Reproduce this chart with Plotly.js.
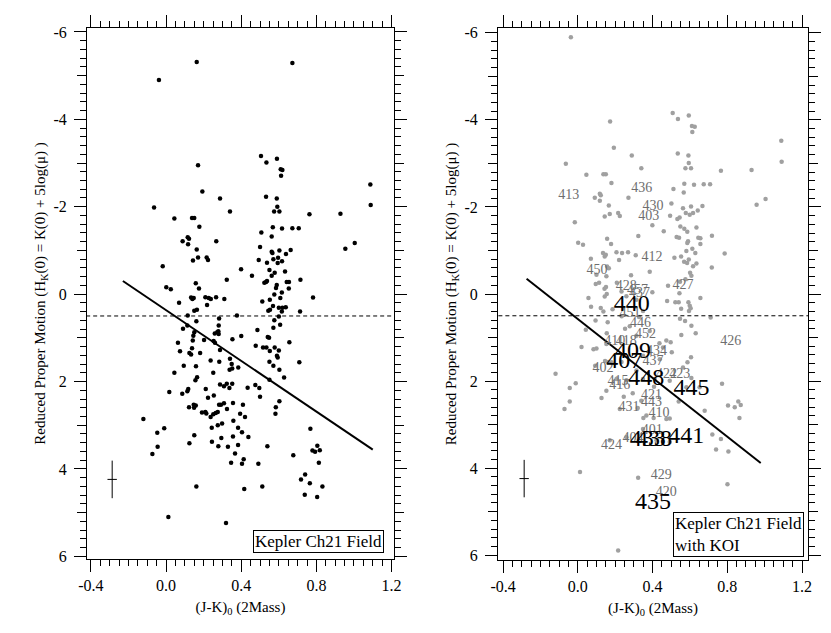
<!DOCTYPE html>
<html>
<head>
<meta charset="utf-8">
<script src="https://cdn.plot.ly/plotly-3.0.1.min.js"></script>
<style>html,body{margin:0;padding:0;background:#fff;}#chart{width:831px;height:633px;}</style>
</head>
<body>
<div id="chart"></div>
<script>
// ---------- data ----------
const xTickVals = [-0.4, 0.0, 0.4, 0.8, 1.2];
const xTickText = ['-0.4', '0.0', '0.4', '0.8', '1.2'];
const yTickVals = [-6, -4, -2, 0, 2, 4, 6];
const yTickText = ['-6', '-4', '-2', '0', '2', '4', '6'];
const yMidTickVals = [-5, -3, -1, 1, 3, 5];

const leftX = [0.163,0.672,-0.038,0.505,0.590,0.170,0.534,0.610,0.619,0.612,1.087,0.193,0.287,0.532,0.589,-0.064,1.089,0.044,0.138,0.150,0.340,0.575,0.603,0.592,0.763,0.928,0.177,0.507,0.568,0.617,0.672,0.706,0.562,0.088,0.115,0.122,0.117,0.267,0.163,0.500,1.004,0.954,0.562,0.566,0.603,0.663,0.638,0.170,0.216,0.223,0.143,0.493,0.537,0.571,0.596,0.594,0.617,-0.018,0.399,0.550,0.578,0.633,0.457,0.562,0.323,0.715,0.523,0.532,0.537,0.589,0.585,0.642,0.654,0.653,0.158,0.001,0.025,0.175,0.616,0.576,0.133,0.140,0.147,0.209,0.227,0.238,0.266,0.310,0.608,0.782,0.552,0.069,0.218,0.512,0.569,0.600,0.619,0.637,0.544,0.553,0.616,0.713,0.150,0.164,0.115,0.377,0.600,0.282,0.161,0.576,0.607,0.280,0.113,0.090,0.571,0.150,0.145,0.259,0.272,0.278,0.280,0.400,0.541,0.548,0.486,0.353,0.142,0.202,0.253,0.260,0.063,0.656,0.477,0.516,0.534,0.578,0.552,0.600,0.287,0.138,0.074,0.124,0.133,0.181,0.590,0.594,0.340,0.349,0.237,0.283,0.550,0.709,0.094,0.159,0.338,0.352,0.384,0.571,0.603,0.044,0.251,0.165,0.628,0.156,0.550,0.017,0.086,0.113,0.118,0.211,0.223,0.254,0.287,0.308,0.323,0.352,0.337,0.434,0.475,0.496,0.500,0.282,0.292,0.308,0.122,0.147,0.158,0.149,0.356,0.409,0.324,0.191,0.214,0.209,0.237,0.251,0.264,0.275,0.394,0.420,0.584,0.582,0.603,-0.121,-0.010,-0.047,-0.045,-0.073,0.150,0.124,0.243,0.275,0.298,0.244,0.278,0.294,0.329,0.358,0.383,0.404,0.356,0.383,0.438,0.367,0.346,0.404,0.413,0.491,0.539,0.677,0.768,0.779,0.793,0.805,0.818,0.813,0.718,0.740,0.765,0.738,0.804,0.832,0.161,0.416,0.512,0.012,0.319];
const leftY = [-5.31,-5.29,-4.90,-3.16,-3.10,-2.95,-3.01,-2.86,-2.84,-2.71,-2.51,-2.35,-2.19,-2.23,-2.19,-1.98,-2.04,-1.73,-1.74,-1.74,-1.89,-1.89,-1.89,-2.00,-1.83,-1.84,-1.54,-1.41,-1.53,-1.50,-1.51,-1.51,-1.32,-1.21,-1.30,-1.27,-1.14,-1.21,-1.02,-1.08,-1.17,-1.04,-0.97,-0.94,-1.00,-1.01,-0.92,-0.84,-0.84,-0.78,-0.77,-0.78,-0.72,-0.80,-0.83,-0.71,-0.75,-0.64,-0.57,-0.55,-0.49,-0.52,-0.42,-0.42,-0.33,-0.33,-0.26,-0.28,-0.30,-0.21,-0.14,-0.28,-0.28,-0.13,-0.25,-0.16,-0.11,-0.13,-0.04,0.01,0.08,0.11,0.09,0.07,0.09,0.11,0.07,0.11,0.09,0.08,0.13,0.20,0.25,0.17,0.27,0.31,0.31,0.30,0.38,0.36,0.40,0.40,0.38,0.36,0.49,0.49,0.51,0.56,0.62,0.60,0.70,0.72,0.72,0.79,0.77,0.87,0.95,0.90,0.87,0.85,0.91,0.96,0.98,1.00,0.82,1.03,1.06,1.05,1.07,1.11,1.11,1.10,1.18,1.22,1.22,1.22,1.30,1.29,1.28,1.24,1.31,1.35,1.38,1.35,1.41,1.45,1.48,1.60,1.52,1.55,1.55,1.56,1.64,1.65,1.73,1.70,1.68,1.64,1.73,1.80,1.80,1.90,1.91,1.97,1.96,2.24,2.28,2.22,2.17,2.17,2.37,2.32,2.07,2.11,2.05,2.05,2.15,2.14,2.08,2.15,2.35,2.53,2.53,2.50,2.59,2.53,2.55,2.60,2.49,2.53,2.63,2.71,2.73,2.70,2.81,2.75,2.72,2.70,2.74,2.81,2.59,2.74,2.45,2.86,3.07,3.17,3.49,3.66,3.23,3.41,3.06,3.00,2.96,3.38,3.48,3.29,3.49,2.90,3.06,3.16,3.26,3.45,3.27,3.65,3.86,3.88,3.78,3.88,3.48,3.69,3.08,3.58,3.61,3.47,3.57,3.86,4.24,4.13,4.33,4.59,4.64,4.40,4.40,4.46,4.40,5.10,5.24];

const rightX = [-0.037,0.508,0.536,0.594,0.173,0.611,0.626,0.613,1.089,0.193,0.535,0.592,0.289,0.594,-0.064,0.576,0.606,0.340,1.091,0.766,0.930,0.046,0.137,0.150,0.180,0.512,0.570,0.567,0.622,0.674,0.708,0.118,0.123,0.091,0.271,1.005,0.118,0.501,0.957,0.166,0.563,0.606,0.667,0.578,0.599,0.617,0.642,0.144,0.171,0.216,0.225,0.494,0.533,0.545,0.549,0.399,0.460,-0.016,0.570,0.586,0.635,0.718,0.529,0.542,0.324,0.645,0.656,0.590,0.586,0.656,0.002,0.028,0.157,0.178,0.613,0.581,0.629,0.786,0.207,0.237,0.269,0.221,0.310,0.135,0.144,0.150,0.070,0.517,0.553,0.569,0.585,0.594,0.635,0.617,0.385,0.717,0.100,0.157,0.166,0.153,0.285,0.601,0.608,0.576,0.547,0.096,0.114,0.143,0.151,0.209,0.483,0.544,0.399,0.144,0.155,0.057,0.478,0.522,0.540,0.592,0.656,0.553,0.599,0.604,0.595,0.071,0.123,0.137,0.186,0.235,0.328,0.547,0.711,0.095,0.160,0.574,0.608,0.043,0.253,0.155,0.554,0.631,0.020,0.084,0.100,0.153,0.437,0.474,0.497,0.503,0.606,0.587,0.563,0.146,0.162,0.180,0.093,-0.119,-0.011,-0.043,0.772,0.127,-0.043,-0.071,0.153,0.246,0.294,0.408,0.540,0.679,0.804,0.840,0.859,0.872,0.865,0.351,0.406,0.492,0.321,0.720,0.766,0.740,0.806,0.012,0.323,0.801,0.216,0.171,
  0.207,0.260,0.314,0.349,0.412,0.492,0.581,0.608,0.652,0.234,0.349,0.439,0.456,0.314,0.385,0.278,0.349,0.314,0.260,0.234,0.349,0.421,0.260,0.492,0.367,0.474,0.225,0.340];
const rightY = [-5.90,-4.16,-4.02,-4.10,-3.96,-3.86,-3.84,-3.72,-3.52,-3.36,-3.23,-3.18,-3.18,-3.01,-2.99,-2.89,-2.89,-2.89,-3.04,-2.83,-2.85,-2.74,-2.75,-2.75,-2.55,-2.41,-2.53,-2.33,-2.51,-2.52,-2.52,-2.30,-2.27,-2.21,-2.21,-2.18,-2.14,-2.08,-2.05,-2.03,-1.97,-2.01,-2.02,-1.86,-1.82,-1.86,-1.92,-1.78,-1.84,-1.86,-1.79,-1.80,-1.72,-1.76,-1.55,-1.58,-1.44,-1.65,-1.50,-1.43,-1.53,-1.34,-1.31,-1.29,-1.33,-1.29,-1.28,-1.21,-1.17,-1.15,-1.18,-1.13,-1.27,-1.15,-1.04,-0.99,-0.94,-0.93,-0.96,-0.94,-0.96,-0.78,-0.89,-0.94,-0.86,-0.90,-0.81,-0.83,-0.86,-0.74,-0.71,-0.79,-0.70,-0.64,-0.51,-0.61,-0.44,-0.63,-0.59,-0.41,-0.43,-0.49,-0.42,-0.34,-0.28,-0.23,-0.26,-0.12,-0.16,-0.26,-0.19,-0.02,-0.04,0.06,0.00,0.09,0.16,0.19,0.19,0.19,0.09,0.34,0.27,0.33,0.39,0.29,0.32,0.40,0.35,0.51,0.53,0.57,0.54,0.61,0.65,0.62,0.73,0.82,0.80,0.90,0.94,0.90,1.22,1.27,1.25,1.15,1.13,1.07,1.11,1.34,1.45,1.57,1.69,1.54,1.56,1.57,1.65,1.83,2.05,2.16,2.06,2.39,2.47,2.64,2.22,2.36,2.28,2.13,2.47,2.68,2.56,2.60,2.47,2.55,2.85,2.85,2.85,2.86,2.62,3.23,3.33,3.57,3.62,4.09,4.22,4.37,5.89,3.36,
  1.95,1.98,1.76,1.95,1.95,1.99,2.14,1.93,2.14,1.56,1.42,1.50,1.23,0.96,0.85,0.74,0.39,0.13,0.05,-0.06,3.10,3.36,3.29,3.40,2.79,2.87,2.64,2.45];

const koiSmallLabels = ['413','436','430','403','412','450','427','428','437','451','446','452','426','410','418','434','437','402','423','422','416','415','421','443','431','410','401','404','424','429','420','457'];
const koiSmallX = [-0.048,0.342,0.403,0.380,0.397,0.103,0.563,0.260,0.330,0.280,0.335,0.362,0.818,0.198,0.260,0.421,0.403,0.135,0.545,0.475,0.225,0.215,0.394,0.394,0.274,0.435,0.399,0.296,0.180,0.447,0.474,0.320];
const koiSmallY = [-2.27,-2.43,-2.01,-1.79,-0.84,-0.54,-0.19,-0.18,-0.02,0.45,0.67,0.93,1.09,1.09,1.08,1.31,1.54,1.70,1.86,1.86,2.11,2.02,2.34,2.50,2.60,2.75,3.14,3.33,3.48,4.16,4.57,-0.08];
const koiBigLabels = ['440','409','407','448','445','433','438','441','435'];
const koiBigX = [0.289,0.296,0.248,0.367,0.608,0.375,0.408,0.581,0.403];
const koiBigY = [0.26,1.33,1.57,1.95,2.18,3.36,3.36,3.29,4.81];

const fitLeftX = [-0.23, 1.10];
const fitLeftY = [-0.30, 3.56];
const fitRightX = [-0.274, 0.979];
const fitRightY = [-0.35, 3.88];
const cutX = [-0.5, 1.3];
const cutY = [0.5, 0.5];
const errX = [-0.287];
const errY = [4.24];
const errDX = [0.025];
const errDY = [0.43];

// ---------- figure ----------
const FONT = 'Liberation Serif';
const traces = [
  {x: leftX, y: leftY, xaxis: 'x', yaxis: 'y', mode: 'markers', type: 'scatter',
   marker: {color: '#000', size: 4.5}, hoverinfo: 'skip'},
  {x: fitLeftX, y: fitLeftY, xaxis: 'x', yaxis: 'y', mode: 'lines', line: {color: '#000', width: 2}},
  {x: cutX, y: cutY, xaxis: 'x', yaxis: 'y', mode: 'lines', line: {color: '#000', width: 1, dash: '4px,3px'}},
  {x: errX, y: errY, xaxis: 'x', yaxis: 'y', mode: 'markers', marker: {size: 0.1, color: '#000'},
   error_x: {type: 'data', array: errDX, width: 0, thickness: 1, color: '#000'},
   error_y: {type: 'data', array: errDY, width: 0, thickness: 1, color: '#000'}},

  {x: rightX, y: rightY, xaxis: 'x2', yaxis: 'y2', mode: 'markers', type: 'scatter',
   marker: {color: '#a0a0a0', size: 4.5}, hoverinfo: 'skip'},
  {x: fitRightX, y: fitRightY, xaxis: 'x2', yaxis: 'y2', mode: 'lines', line: {color: '#000', width: 2}},
  {x: cutX, y: cutY, xaxis: 'x2', yaxis: 'y2', mode: 'lines', line: {color: '#000', width: 1, dash: '4px,3px'}},
  {x: errX, y: errY, xaxis: 'x2', yaxis: 'y2', mode: 'markers', marker: {size: 0.1, color: '#000'},
   error_x: {type: 'data', array: errDX, width: 0, thickness: 1, color: '#000'},
   error_y: {type: 'data', array: errDY, width: 0, thickness: 1, color: '#000'}},
  {x: koiSmallX, y: koiSmallY, text: koiSmallLabels, xaxis: 'x2', yaxis: 'y2', mode: 'text',
   textfont: {family: FONT, size: 14, color: '#6e6e6e'}},
  {x: koiBigX, y: koiBigY, text: koiBigLabels, xaxis: 'x2', yaxis: 'y2', mode: 'text',
   textfont: {family: FONT, size: 24, color: '#000'}},
  // invisible traces that carry the medium-tick overlay axes
  {x: [0], y: [0], xaxis: 'x', yaxis: 'y3', mode: 'markers', marker: {opacity: 0}, hoverinfo: 'skip'},
  {x: [0], y: [0], xaxis: 'x2', yaxis: 'y4', mode: 'markers', marker: {opacity: 0}, hoverinfo: 'skip'}
];

const yTitle = 'Reduced Proper Motion (H<sub>K</sub>(0) = K(0) + 5log(\u03bc) )';
const xTitle = '(J-K)<sub>0</sub> (2Mass)';

function xAx(domain, range, anchor) {
  return {domain: domain, range: range, anchor: anchor, tickmode: 'array', tickvals: xTickVals, ticktext: xTickText,
    ticks: 'outside', ticklen: 12, tickwidth: 1, tickcolor: '#000', showline: true, linecolor: '#000', linewidth: 1,
    mirror: 'ticks', showgrid: false, zeroline: false, tickfont: {family: FONT, size: 16, color: '#000'},
    minor: {dtick: 0.05, tick0: 0, ticks: 'outside', ticklen: 6, tickwidth: 1, tickcolor: '#000', showgrid: false},
    title: {text: xTitle, font: {family: FONT, size: 15, color: '#000'}, standoff: 8}};
}
function yAx(domain, range, anchor) {
  return {domain: domain, range: range, anchor: anchor, tickmode: 'array', tickvals: yTickVals, ticktext: yTickText,
    ticks: 'outside', ticklen: 12, tickwidth: 1, tickcolor: '#000', showline: true, linecolor: '#000', linewidth: 1,
    mirror: 'ticks', showgrid: false, zeroline: false, tickfont: {family: FONT, size: 16, color: '#000'},
    ticklabelstandoff: 4,
    minor: {dtick: 0.2, tick0: 0, ticks: 'outside', ticklen: 6, tickwidth: 1, tickcolor: '#000', showgrid: false},
    title: {text: yTitle, font: {family: FONT, size: 15, color: '#000'}, standoff: 4}};
}
function yMid(range, anchor, over) {
  return {range: range, anchor: anchor, overlaying: over, tickmode: 'array', tickvals: yMidTickVals,
    ticks: 'outside', ticklen: 9, tickwidth: 1, tickcolor: '#000',
    showline: false, mirror: 'ticks', showgrid: false, zeroline: false, showticklabels: false};
}

const W = 831, H = 633;
const mL = 87, mR = W - 808, mT = 28, mB = H - 560;
const pw = W - mL - mR;
const layout = {
  width: W, height: H,
  margin: {l: mL, r: mR, t: mT, b: mB, pad: 0},
  paper_bgcolor: '#fff', plot_bgcolor: '#fff', showlegend: false,
  font: {family: FONT, color: '#000'},
  xaxis: xAx([0, (394 - 87) / pw], [-0.421, 1.213], 'y'),
  yaxis: yAx([0.002, 1], [6.06, -6.09], 'x'),
  xaxis2: xAx([(498 - 87) / pw, 1], [-0.427, 1.232], 'y2'),
  yaxis2: yAx([0, 1], [6.11, -6.11], 'x2'),
  yaxis3: yMid([6.06, -6.09], 'x', 'y'),
  yaxis4: yMid([6.11, -6.11], 'x2', 'y2'),
  annotations: [
    {xref: 'x domain', yref: 'y domain', x: 0.967, y: 0.012, xanchor: 'right', yanchor: 'bottom',
     text: 'Kepler Ch21 Field', showarrow: false, font: {family: FONT, size: 17, color: '#000'},
     bordercolor: '#000', borderwidth: 1, borderpad: 1, bgcolor: '#fff'},
    {xref: 'x2 domain', yref: 'y2 domain', x: 0.987, y: 0.006, xanchor: 'right', yanchor: 'bottom',
     text: 'Kepler Ch21 Field<br>with KOI', align: 'left', showarrow: false,
     font: {family: FONT, size: 17, color: '#000'},
     bordercolor: '#000', borderwidth: 1, borderpad: 1, bgcolor: '#fff'}
  ]
};

Plotly.newPlot('chart', traces, layout, {displayModeBar: false, staticPlot: true});
</script>
</body>
</html>
